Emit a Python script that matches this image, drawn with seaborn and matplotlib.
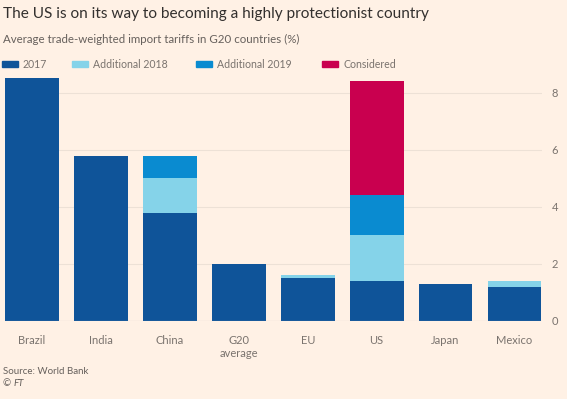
import pandas as pd
import numpy as np
import matplotlib.pyplot as plt
import seaborn as sns

# Data
countries = ["Brazil", "India", "China", "G20\naverage", "EU", "US", "Japan", "Mexico"]
tariff_2017 = [8.5, 5.8, 3.8, 2.0, 1.5, 1.4, 1.3, 1.2]
add_2018 = [0.0, 0.0, 1.2, 0.0, 0.1, 1.6, 0.0, 0.2]
add_2019 = [0.0, 0.0, 0.8, 0.0, 0.0, 1.4, 0.0, 0.0]
considered = [0.0, 0.0, 0.0, 0.0, 0.0, 4.0, 0.0, 0.0]

series_names = ["2017", "Additional 2018", "Additional 2019", "Considered"]
colors = ["#0f5499", "#85d3e9", "#0a8bd0", "#c9004f"]

BG = "#fff1e5"
GREY = "#66605c"

df = pd.DataFrame({
    "country": countries,
    "2017": tariff_2017,
    "Additional 2018": add_2018,
    "Additional 2019": add_2019,
    "Considered": considered,
})
# cumulative totals so layers can be drawn from the top down
cum = df[series_names].cumsum(axis=1)
cum["country"] = df["country"]

sns.set_style("white")
plt.rcParams["font.family"] = ["Lato", "DejaVu Sans"]

fig = plt.figure(figsize=(5.67, 3.99), dpi=100, facecolor=BG)
ax = fig.add_axes([0.009, 0.1955, 0.947, 0.615])
ax.set_facecolor(BG)

for name, col in reversed(list(zip(series_names, colors))):
    sns.barplot(data=cum, x="country", y=name, color=col, width=0.78,
                saturation=1, linewidth=0, ax=ax, zorder=3)

ax.set_xlim(-0.39, 7.4)
ax.set_ylim(0, 8.6)
ax.set_yticks([0, 2, 4, 6, 8])
ax.yaxis.tick_right()
ax.grid(axis="y", color="#ede1d6", linewidth=0.8, zorder=0)
ax.axhline(0, color="#d6cbc1", linewidth=0.8, zorder=4)
for s in ax.spines.values():
    s.set_visible(False)
ax.tick_params(axis="y", length=0, pad=7, labelsize=8, labelcolor="#7a736e")
ax.tick_params(axis="x", length=0, pad=10, labelsize=8, labelcolor="#7a736e")
ax.set_xlabel("")
ax.set_ylabel("")

# Title and subtitle
fig.text(0.005, 0.965, "The US is on its way to becoming a highly protectionist country",
         fontsize=11.1, color="#33302e", va="center", ha="left")
fig.text(0.005, 0.902, "Average trade-weighted import tariffs in G20 countries (%)",
         fontsize=8.3, color=GREY, va="center", ha="left")

# Legend
leg_x = [2, 72, 196, 322]
for x, name, col in zip(leg_x, series_names, colors):
    fig.patches.append(plt.Rectangle((x / 567, 1 - 67 / 399), 16 / 567, 6 / 399,
                                      transform=fig.transFigure, color=col))
    fig.text((x + 21) / 567, 1 - 64 / 399, name, fontsize=7.6, color="#7a736e",
             va="center", ha="left")

# Source
fig.text(0.005, 1 - 371 / 399, "Source: World Bank", fontsize=7, color=GREY,
         va="center", ha="left")
fig.text(0.005, 1 - 384 / 399, "©", fontsize=7, color=GREY, va="center", ha="left")
fig.text(0.024, 1 - 384 / 399, "FT", fontsize=7, color=GREY, va="center", ha="left",
         style="italic")

fig.savefig("out.png", dpi=100, facecolor=BG)
